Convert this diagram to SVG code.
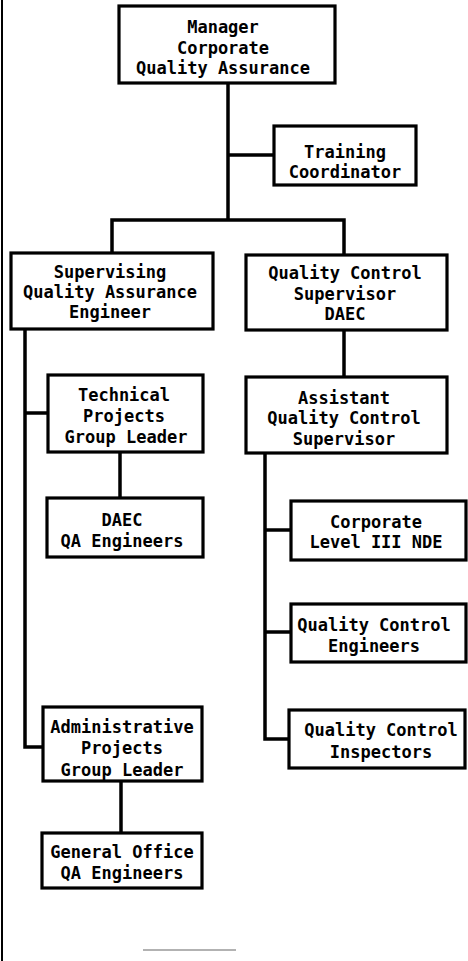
<svg xmlns="http://www.w3.org/2000/svg" width="468" height="961" viewBox="0 0 468 961">
<style>
.box{fill:#fff;stroke:#000;stroke-width:3.2}
.c{fill:none;stroke:#000;stroke-width:3.5;stroke-linejoin:miter}
text{font-family:"DejaVu Sans Mono","Liberation Mono",monospace;font-weight:bold;font-size:17px;fill:#000;text-anchor:middle}
</style>
<rect x="0" y="0" width="468" height="961" fill="#fff"/>
<line x1="2" y1="0" x2="2" y2="961" stroke="#000" stroke-width="2"/>
<line x1="143" y1="950" x2="236" y2="950" stroke="#666" stroke-width="1.2"/>
<g id="connectors">
<path class="c" d="M228 83 V220"/>
<path class="c" d="M228 155 H274"/>
<path class="c" d="M112 254 V220 H344 V256"/>
<path class="c" d="M344 330 V378"/>
<path class="c" d="M25 329 V747 H43"/>
<path class="c" d="M25 413 H48"/>
<path class="c" d="M120 452 V498"/>
<path class="c" d="M265 453 V739 H289"/>
<path class="c" d="M265 530 H291"/>
<path class="c" d="M265 632 H291"/>
<path class="c" d="M121 781 V833"/>
</g>
<g id="manager">
<rect class="box" x="119" y="6" width="216" height="77"/>
<text x="223" y="33">Manager</text>
<text x="223" y="54">Corporate</text>
<text x="223" y="74">Quality Assurance</text>
</g>
<g id="training">
<rect class="box" x="274" y="126" width="142" height="59"/>
<text x="345" y="158">Training</text>
<text x="345" y="178">Coordinator</text>
</g>
<g id="sqae">
<rect class="box" x="11" y="253" width="202" height="76"/>
<text x="110" y="278">Supervising</text>
<text x="110" y="298">Quality Assurance</text>
<text x="110" y="318">Engineer</text>
</g>
<g id="qcsup">
<rect class="box" x="246" y="255" width="201" height="75"/>
<text x="345" y="279">Quality Control</text>
<text x="345" y="300">Supervisor</text>
<text x="345" y="320">DAEC</text>
</g>
<g id="asst">
<rect class="box" x="246" y="377" width="201" height="76"/>
<text x="344" y="404">Assistant</text>
<text x="344" y="424">Quality Control</text>
<text x="344" y="445">Supervisor</text>
</g>
<g id="tech">
<rect class="box" x="48" y="375" width="155" height="77"/>
<text x="124" y="401">Technical</text>
<text x="124" y="422">Projects</text>
<text x="126" y="443">Group Leader</text>
</g>
<g id="daecqa">
<rect class="box" x="47" y="498" width="156" height="59"/>
<text x="122" y="526">DAEC</text>
<text x="122" y="547">QA Engineers</text>
</g>
<g id="nde">
<rect class="box" x="291" y="501" width="175" height="59"/>
<text x="376" y="528">Corporate</text>
<text x="376" y="548">Level III NDE</text>
</g>
<g id="qceng">
<rect class="box" x="291" y="604" width="175" height="58"/>
<text x="374" y="631">Quality Control</text>
<text x="374" y="652">Engineers</text>
</g>
<g id="qcinsp">
<rect class="box" x="289" y="710" width="176" height="58"/>
<text x="381" y="736">Quality Control</text>
<text x="381" y="758">Inspectors</text>
</g>
<g id="admin">
<rect class="box" x="43" y="707" width="159" height="74"/>
<text x="122" y="733">Administrative</text>
<text x="122" y="754">Projects</text>
<text x="122" y="776">Group Leader</text>
</g>
<g id="genoffice">
<rect class="box" x="42" y="833" width="160" height="55"/>
<text x="122" y="858">General Office</text>
<text x="122" y="879">QA Engineers</text>
</g>
</svg>
